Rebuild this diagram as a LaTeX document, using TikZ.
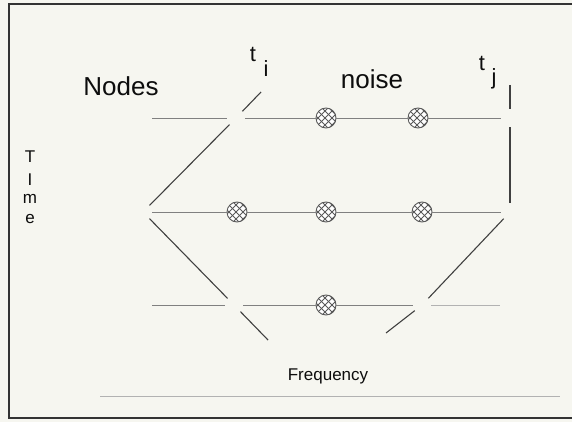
\documentclass[tikz,border=0pt]{standalone}
\usepackage{fontspec}
\setmainfont{Liberation Sans}
\tikzset{
  junction/.style={circle, minimum size=18pt, inner sep=0pt},
  noise/.style={circle, minimum size=20pt, inner sep=0pt, draw=black!65, line width=0.9pt, fill=white,
    path picture={
      \foreach \k in {-28,-21,...,28}{
        \draw[black!65, line width=0.9pt] ([shift={(\k pt,-20pt)}]path picture bounding box.center) -- ++(40pt,40pt);
        \draw[black!65, line width=0.9pt] ([shift={(\k pt,20pt)}]path picture bounding box.center) -- ++(40pt,-40pt);
      }}},
  rowline/.style={draw=black!50, line width=0.8pt},
  diag/.style={draw=black!75, line width=1.1pt},
  frame/.style={draw=black!80, line width=1.6pt},
  lbl/.style={inner sep=0pt, text=black!95},
}
\begin{document}
\begin{tikzpicture}[x=1pt, y=-1pt]
\useasboundingbox[fill={rgb,255:red,246;green,246;blue,240}] (0,0) rectangle (572,422);
% frame
\coordinate (f1) at (572,4);
\coordinate (f2) at (9,4);
\coordinate (f3) at (9,418);
\coordinate (f4) at (572,418);
\draw[frame] (f1) -- (f2) -- (f3) -- (f4);
% frequency axis
\coordinate (fa) at (100,396);
\coordinate (fb) at (560,396);
\draw[draw=black!30, line width=0.8pt] (fa) -- (fb);

% junction nodes
\node[junction] (n1) at (236,118) {};
\node[junction] (n2) at (143,212) {};
\node[junction] (n3) at (234,305) {};
\node[junction] (n4) at (422,305) {};
\node[junction] (r1) at (510,118) {};
\node[junction] (r2) at (510,212) {};
% noise nodes
\node[noise] (z1) at (326,118) {};
\node[noise] (z2) at (418,118) {};
\node[noise] (z3) at (237,212) {};
\node[noise] (z4) at (326,212) {};
\node[noise] (z5) at (422,212) {};
\node[noise] (z6) at (326,305) {};

% free ends
\coordinate (a1) at (152,118);
\coordinate (a3) at (152,305);
\coordinate (b3) at (500,305);
\coordinate (tiend) at (261,92);
\coordinate (tjend) at (510,85);
\coordinate (d1) at (268,340);
\coordinate (d2) at (386,333);

% rows
\draw[rowline] (a1) -- (n1) -- (z1) -- (z2) -- (r1);
\draw[rowline] (n2) -- (z3) -- (z4) -- (z5) -- (r2);
\draw[rowline] (a3) -- (n3) -- (z6) -- (n4);
\draw[draw=black!30, line width=0.8pt] (n4) -- (b3);

% diagonals and verticals
\draw[diag] (n2) -- (n1);
\draw[diag] (n1) -- (tiend);
\draw[diag] (n2) -- (n3);
\draw[diag] (n3) -- (d1);
\draw[diag] (r2) -- (n4);
\draw[diag] (n4) -- (d2);
\draw[diag] (r1) -- (r2);
\draw[diag] (tjend) -- (r1);

% labels
\node[lbl, font=\fontsize{26}{30}\selectfont] (lnodes) at (121,86) {Nodes};
\node[lbl, font=\fontsize{26}{30}\selectfont] (lnoise) at (372,79) {noise};
\node[lbl, font=\fontsize{22}{26}\selectfont] (lti) at (253,54) {t};
\node[lbl, font=\fontsize{22}{26}\selectfont] (ltii) at (266,69) {i};
\node[lbl, font=\fontsize{22}{26}\selectfont] (ltj) at (482,63) {t};
\node[lbl, font=\fontsize{22}{26}\selectfont] (ltjj) at (494,79) {j};
\node[lbl, font=\fontsize{17}{20}\selectfont] (lfreq) at (328,376) {Frequency};
\node[lbl, font=\fontsize{17}{20}\selectfont] (lT) at (30,157) {T};
\node[lbl, font=\fontsize{17}{20}\selectfont] (lI) at (30,180) {I};
\node[lbl, font=\fontsize{17}{20}\selectfont] (lm) at (30,199) {m};
\node[lbl, font=\fontsize{17}{20}\selectfont] (le) at (30,219) {e};
\end{tikzpicture}
\end{document}
